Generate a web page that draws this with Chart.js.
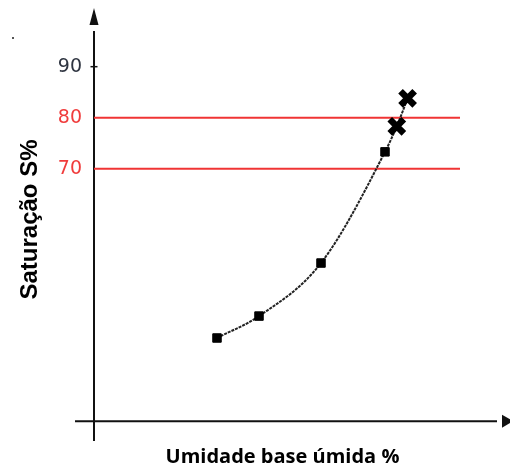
<!DOCTYPE html>
<html>
<head>
<meta charset="utf-8">
<script src="https://cdn.jsdelivr.net/npm/chart.js@4.4.1/dist/chart.umd.min.js"></script>
<style>
  html, body { margin: 0; padding: 0; background: #fff; }
  #wrap { width: 510px; height: 471px; }
</style>
</head>
<body>
<div id="wrap"><canvas id="satChart"></canvas></div>
<script>
/* ---------- data ---------- */
const umidade   = [30.75, 41.25, 56.75, 72.75, 75.7, 78.4];
const saturacao = [36.8, 41.1, 51.5, 73.3, 78.3, 83.8];
const marcador  = ["rect", "rect", "rect", "rect", "crossRot", "crossRot"];

const yTicks    = [70, 80, 90];
const limites   = [80, 70];
const limiteFim = 91.5;

const yTitle = "Saturação S%";
const xTitle = "Umidade base úmida %";

/* ---------- axes plugin (lines, arrows, titles) ---------- */
const axesPlugin = {
  id: "axesPlugin",
  afterDraw(chart) {
    const c = chart.ctx;
    const x = chart.scales.x;
    const y = chart.scales.y;
    const x0 = x.getPixelForValue(0);
    const yAxis = y.getPixelForValue(20.5);

    c.save();
    c.strokeStyle = "#111";
    c.fillStyle = "#111";
    c.lineWidth = 2;

    // x axis
    c.beginPath();
    c.moveTo(x.getPixelForValue(-4.75), yAxis);
    c.lineTo(x.getPixelForValue(100.75), yAxis);
    c.stroke();

    // arrow right
    c.beginPath();
    c.moveTo(502, yAxis - 6.5);
    c.lineTo(502, yAxis + 6.5);
    c.lineTo(513, yAxis);
    c.closePath();
    c.fill();

    // arrow up
    c.beginPath();
    c.moveTo(x0, 8);
    c.lineTo(x0 - 4.5, 25);
    c.lineTo(x0 + 4.5, 25);
    c.closePath();
    c.fill();

    // tick at 90
    c.lineWidth = 1.5;
    const t90 = y.getPixelForValue(90);
    c.beginPath();
    c.moveTo(x0 - 3.5, t90);
    c.lineTo(x0 + 3.5, t90);
    c.stroke();

    // stray dot top-left
    c.fillStyle = "#555";
    c.fillRect(12, 37, 2, 2);

    // titles
    c.fillStyle = "#000";
    c.font = "bold 24px 'Liberation Sans', Arial, sans-serif";
    c.textAlign = "center";
    c.textBaseline = "alphabetic";
    c.translate(37, 219.5);
    c.rotate(-Math.PI / 2);
    c.fillText(yTitle, 0, 0);
    c.setTransform(1, 0, 0, 1, 0, 0);

    c.font = "bold 20px 'Open Sans', sans-serif";
    c.fillText(xTitle, 282.5, 463);
    c.restore();
  }
};

/* ---------- datasets ---------- */
const limitSets = limites.map(v => ({
  data: [{ x: 0, y: v }, { x: limiteFim, y: v }],
  borderColor: "#f03434",
  borderWidth: 2,
  pointRadius: 0,
  order: 2
}));

const curva = {
  data: umidade.map((u, i) => ({ x: u, y: saturacao[i] })),
  borderColor: "#222",
  borderWidth: 2,
  borderDash: [3, 1],
  cubicInterpolationMode: "monotone",
  pointStyle: marcador,
  pointRadius: marcador.map(m => m === "rect" ? 6 : 10),
  pointBorderWidth: marcador.map(m => m === "rect" ? 1 : 6.5),
  pointBackgroundColor: "#000",
  pointBorderColor: "#000",
  order: 1
};

/* ---------- chart ---------- */
const ctx = document.getElementById("satChart").getContext("2d");

new Chart(ctx, {
  type: "line",
  data: { datasets: [...limitSets, curva] },
  options: {
    responsive: true,
    maintainAspectRatio: false,
    animation: false,
    layout: { autoPadding: false, padding: { top: 32, bottom: 31, right: 5, left: 0 } },
    plugins: { legend: { display: false }, tooltip: { enabled: false } },
    scales: {
      x: {
        type: "linear",
        min: 0,
        max: 102.75,
        display: false
      },
      y: {
        type: "linear",
        min: 16.8,
        max: 96.8,
        afterFit: s => { s.width = 94; },
        afterBuildTicks: s => { s.ticks = yTicks.map(v => ({ value: v })); },
        grid: { display: false, drawTicks: false, tickLength: 0 },
        border: { display: true, color: "#111", width: 2 },
        ticks: {
          padding: 12,
          font: { family: "'DejaVu Sans', Verdana, sans-serif", size: 19 },
          color: c => c.tick && c.tick.value === 90 ? "#2e3440" : "#f03c3c"
        }
      }
    }
  },
  plugins: [axesPlugin]
});
</script>
</body>
</html>
